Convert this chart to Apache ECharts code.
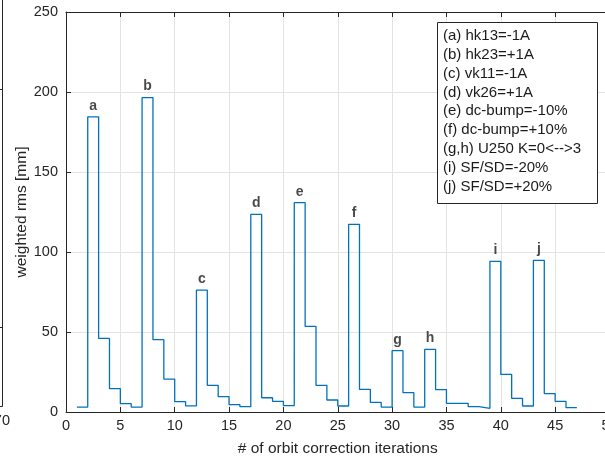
<!DOCTYPE html>
<html>
<head>
<meta charset="utf-8">
<script src="https://cdn.jsdelivr.net/npm/echarts@6/dist/echarts.min.js"></script>
<style>
html,body{margin:0;padding:0;background:#fff;}
#chart{width:605px;height:456px;}
</style>
</head>
<body>
<div id="chart"></div>
<script>
// ---- data ----
var iterations = [1,2,3,4,5,6,7,8,9,10,11,12,13,14,15,16,17,18,19,20,21,22,23,24,25,26,27,28,29,30,31,32,33,34,35,36,37,38,39,40,41,42,43,44,45,46,47];
var weightedRms = [3.1,184.5,46,14.6,5.2,3.1,196.5,45.2,20.6,6.5,3.8,76.2,16.7,9.6,4.6,3.3,123.5,8.9,6.7,4.0,130.8,53.5,16.7,7.5,3.75,117.3,14.2,6.0,3.1,38.3,12.1,3.1,39.2,14.0,5.4,5.4,3.3,2.3,94.2,23.5,8.5,3.75,94.8,11.5,6.7,2.7,2.7];
var peakIterations = [2,7,12,17,21,26,30,33,39,43];
var peakLabels = ['a','b','c','d','e','f','g','h','i','j'];
var legendLines = ['(a) hk13=-1A','(b) hk23=+1A','(c) vk11=-1A','(d) vk26=+1A','(e) dc-bump=-10%','(f) dc-bump=+10%','(g,h) U250 K=0<-->3','(i) SF/SD=-20%','(j) SF/SD=+20%'];
var xTicks = [0,5,10,15,20,25,30,35,40,45,50];
var yTicks = [0,50,100,150,200,250];

var FONT = '"Liberation Sans", Arial, Helvetica, sans-serif';
var AX = '#262626';
var GRIDC = '#e3e3e3';

var stairData = iterations.map(function(x,i){return [x, weightedRms[i]];});
var labelData = peakIterations.map(function(x,i){
  return {value:[x+0.5, weightedRms[iterations.indexOf(x)]], name: peakLabels[i]};
});

var graphics = [];
// legend box (text annotation)
graphics.push({type:'rect', shape:{x:437.5,y:22.5,width:160,height:181}, style:{fill:'#fff', stroke:'#262626', lineWidth:1}, z:100});
legendLines.forEach(function(t,i){
  graphics.push({type:'text', x:443, y:36+i*18.8, style:{text:t, font:'15px '+FONT, fill:'#1a1a1a', textVerticalAlign:'middle'}, z:101});
});
// remnant of neighbouring panel at far left
graphics.push({type:'line', shape:{x1:2.5,y1:0,x2:2.5,y2:406.5}, style:{stroke:'#262626', lineWidth:1}});
graphics.push({type:'line', shape:{x1:0,y1:406.5,x2:2.5,y2:406.5}, style:{stroke:'#262626', lineWidth:1}});
graphics.push({type:'line', shape:{x1:0,y1:89.5,x2:2.5,y2:89.5}, style:{stroke:'#262626', lineWidth:1}});
graphics.push({type:'line', shape:{x1:0,y1:327.5,x2:2.5,y2:327.5}, style:{stroke:'#262626', lineWidth:1}});
graphics.push({type:'text', x:10, y:421, style:{text:'70', font:'14.5px '+FONT, fill:AX, textAlign:'right', textVerticalAlign:'middle'}});

var chart = echarts.init(document.getElementById('chart'), null, {renderer:'canvas'});
chart.setOption({
  animation:false,
  backgroundColor:'#fff',
  grid:{left:66, top:12, width:543.5, height:400, containLabel:false, outerBoundsMode:'none'},
  xAxis:[{
    type:'value', min:0, max:50, interval:5, position:'bottom',
    axisLine:{show:true, lineStyle:{color:AX, width:1}},
    axisTick:{show:true, inside:true, length:5, lineStyle:{color:AX}},
    axisLabel:{color:AX, fontSize:14.5, fontFamily:FONT, margin:6},
    splitLine:{show:true, lineStyle:{color:GRIDC, width:1}},
    name:'# of orbit correction iterations', nameLocation:'middle', nameGap:29, nameMoveOverlap:false,
    nameTextStyle:{color:AX, fontSize:15.5, fontFamily:FONT}
  },{
    type:'value', min:0, max:50, interval:5, position:'top',
    axisLine:{show:true, onZero:false, lineStyle:{color:AX, width:1}},
    axisTick:{show:true, inside:true, length:5, lineStyle:{color:AX}},
    axisLabel:{show:false}, splitLine:{show:false}
  }],
  yAxis:[{
    type:'value', min:0, max:250, interval:50,
    axisLine:{show:true, lineStyle:{color:AX, width:1}},
    axisTick:{show:true, inside:true, length:5, lineStyle:{color:AX}},
    axisLabel:{color:AX, fontSize:14.5, fontFamily:FONT, margin:8},
    splitLine:{show:true, lineStyle:{color:GRIDC, width:1}},
    name:'weighted rms [mm]', nameLocation:'middle', nameGap:36, nameRotate:90, nameMoveOverlap:false,
    nameTextStyle:{color:AX, fontSize:15.5, fontFamily:FONT}
  }],
  series:[{
    type:'line', step:'end', data:stairData, xAxisIndex:0, yAxisIndex:0,
    showSymbol:false, symbol:'none',
    lineStyle:{color:'#0072BD', width:1.3}, z:5
  },{
    type:'scatter', data:labelData, xAxisIndex:0, yAxisIndex:0,
    symbolSize:0,
    label:{show:true, position:'top', distance:4, formatter:function(p){return p.name;},
      color:'#1a1a1a', fontWeight:'bold', fontSize:14, fontFamily:FONT},
    z:6
  }],
  graphic:graphics
});
</script>
</body>
</html>
